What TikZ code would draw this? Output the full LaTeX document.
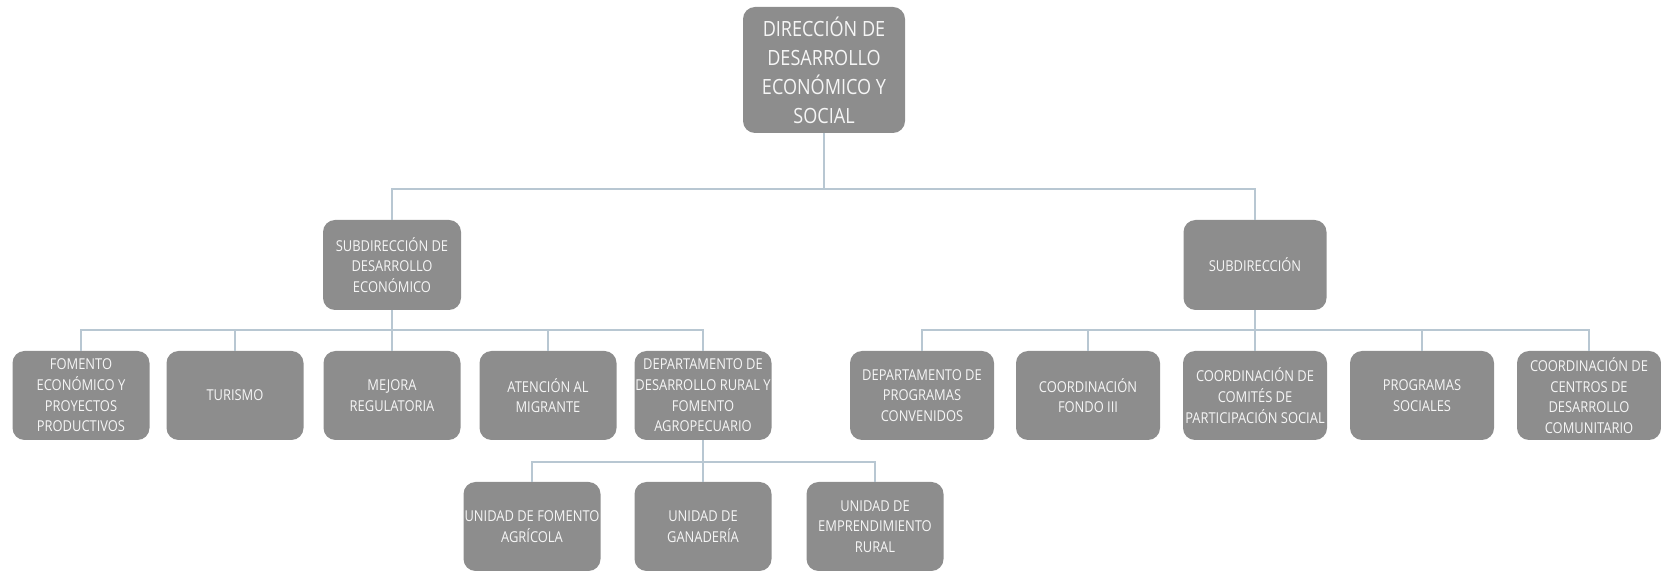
\documentclass[tikz,border=0pt]{standalone}
\usepackage{fontspec}
\setmainfont{Open Sans}[FakeStretch=0.86]
\definecolor{boxgray}{RGB}{141,141,141}
\definecolor{conncol}{RGB}{184,199,210}
\definecolor{txtcol}{RGB}{246,246,246}
\begin{document}
\begin{tikzpicture}[x=0.5pt,y=-0.5pt,
  box/.style={fill=boxgray,draw=none,rounded corners=6pt,inner sep=0pt,align=center,text=txtcol,
     font=\fontsize{7.5}{10.3}\selectfont,minimum height=44.5pt},
  bigbox/.style={box,font=\fontsize{10.5}{14.5}\selectfont,minimum width=81pt,minimum height=63pt},
  lw/.style={minimum width=68.5pt},
  rw/.style={minimum width=72pt},
  conn/.style={draw=conncol,line width=1pt}]
\useasboundingbox (0,0) rectangle (1661,571);
% top
\node[bigbox] (top) at (824,70) {DIRECCIÓN DE\\DESARROLLO\\ECONÓMICO Y\\SOCIAL};
% subdirections
\node[box,minimum width=69pt,minimum height=45pt] (subL) at (392,265) {SUBDIRECCIÓN DE\\DESARROLLO\\ECONÓMICO};
\node[box,minimum width=71.5pt,minimum height=45pt] (subR) at (1255,265) {SUBDIRECCIÓN};
% left children
\node[box,lw] (l1) at (81,395.5) {FOMENTO\\ECONÓMICO Y\\PROYECTOS\\PRODUCTIVOS};
\node[box,lw] (l2) at (235,395.5) {TURISMO};
\node[box,lw] (l3) at (392,395.5) {MEJORA\\REGULATORIA};
\node[box,lw] (l4) at (548,395.5) {ATENCIÓN AL\\MIGRANTE};
\node[box,lw] (l5) at (703,395.5) {DEPARTAMENTO DE\\DESARROLLO RURAL Y\\FOMENTO\\AGROPECUARIO};
% right children
\node[box,rw] (r1) at (922,395.5) {DEPARTAMENTO DE\\PROGRAMAS\\CONVENIDOS};
\node[box,rw] (r2) at (1088,395.5) {COORDINACIÓN\\FONDO III};
\node[box,rw] (r3) at (1255,395.5) {COORDINACIÓN DE\\COMITÉS DE\\PARTICIPACIÓN SOCIAL};
\node[box,rw] (r4) at (1422,395.5) {PROGRAMAS\\SOCIALES};
\node[box,rw] (r5) at (1589,395.5) {COORDINACIÓN DE\\CENTROS DE\\DESARROLLO\\COMUNITARIO};
% bottom
\node[box,lw] (b1) at (532,526.5) {UNIDAD DE FOMENTO\\AGRÍCOLA};
\node[box,lw] (b2) at (703,526.5) {UNIDAD DE\\GANADERÍA};
\node[box,lw] (b3) at (875,526.5) {UNIDAD DE\\EMPRENDIMIENTO\\RURAL};
% connectors
\foreach \c in {subL,subR} \draw[conn] (top.south) -- ++(0,56) -| (\c.north);
\foreach \c in {l1,l2,l3,l4,l5} \draw[conn] (subL.south) -- ++(0,20) -| (\c.north);
\foreach \c in {r1,r2,r3,r4,r5} \draw[conn] (subR.south) -- ++(0,20) -| (\c.north);
\foreach \c in {b1,b2,b3} \draw[conn] (l5.south) -- ++(0,22) -| (\c.north);
\end{tikzpicture}
\end{document}
